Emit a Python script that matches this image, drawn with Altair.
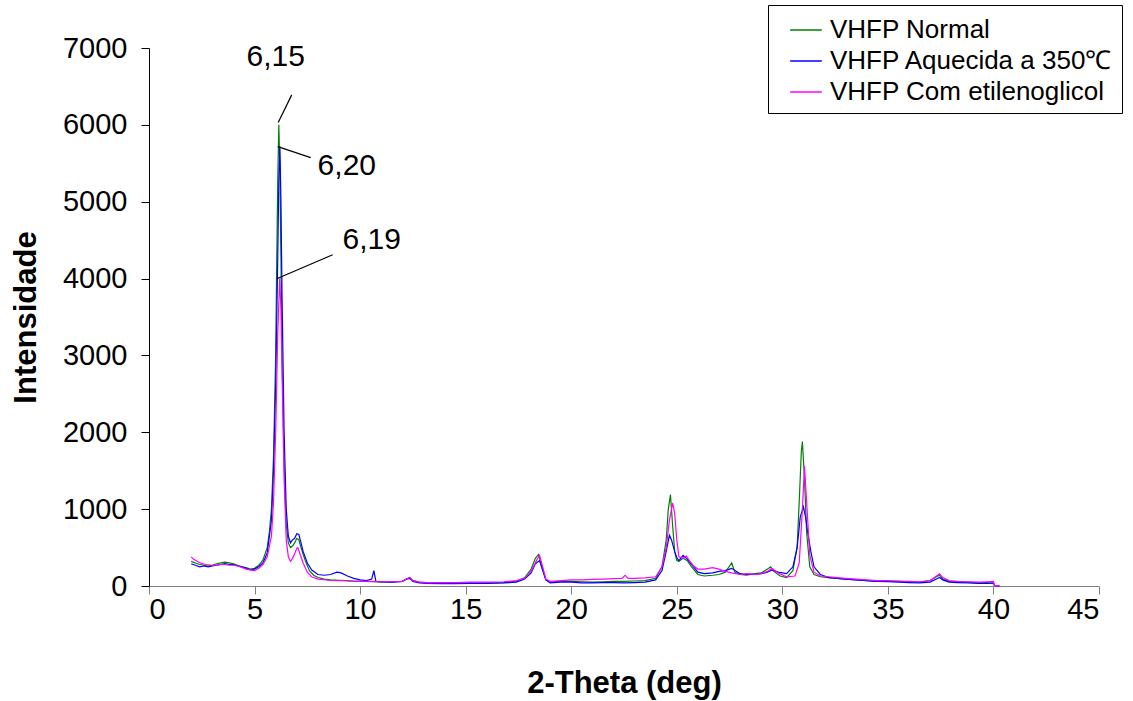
import altair as alt
import pandas as pd

series_names = ["VHFP Normal", "VHFP Aquecida a 350℃", "VHFP Com etilenoglicol"]
series_colors = ["#008000", "#0000ff", "#ff00ff"]

green_x = [2.0,2.2,2.4,2.6,2.8,3.0,3.2,3.4,3.6,3.8,4.0,4.2,4.4,4.6,4.8,5.0,5.2,5.4,5.6,5.7,5.8,5.9,6.0,6.05,6.1,6.15,6.2,6.25,6.3,6.4,6.5,6.6,6.7,6.8,6.9,7.0,7.1,7.2,7.4,7.6,7.8,8.0,8.3,8.6,9.0,9.4,9.8,10.2,10.6,11.0,11.5,12.0,12.2,12.35,12.5,12.8,13.2,13.8,14.5,15.2,16.0,16.8,17.4,17.8,18.1,18.3,18.45,18.6,18.8,19.0,19.5,20.0,20.5,21.0,21.5,22.0,22.5,23.0,23.5,24.0,24.3,24.5,24.6,24.7,24.8,24.9,25.0,25.1,25.3,25.5,25.7,26.0,26.3,26.7,27.0,27.3,27.5,27.6,27.75,28.0,28.3,28.7,29.0,29.3,29.45,29.6,29.9,30.2,30.5,30.7,30.8,30.9,30.95,31.05,31.15,31.3,31.5,31.8,32.2,32.6,33.0,33.5,34.0,34.5,35.0,35.5,36.0,36.5,37.0,37.3,37.45,37.6,37.9,38.3,38.8,39.3,39.7,40.0]
green_y = [320,300,280,270,260,270,290,300,310,300,290,270,250,240,220,230,270,340,500,700,1000,1700,3000,4200,5300,6000,5400,4300,3000,1600,800,560,500,520,560,620,600,500,330,200,140,110,90,80,75,70,60,60,55,50,50,60,90,110,70,50,40,40,35,40,40,45,60,110,220,360,410,260,80,50,60,60,55,50,55,60,60,65,70,100,250,600,1000,1190,800,450,330,320,360,330,250,150,130,140,150,180,260,300,180,150,140,160,170,220,250,190,130,110,200,500,1100,1750,1880,1400,700,250,150,120,110,100,90,80,70,60,60,60,55,50,70,120,140,90,60,55,50,40,45,30]

blue_x = [2.0,2.2,2.4,2.6,2.8,3.0,3.2,3.4,3.6,3.8,4.0,4.2,4.4,4.6,4.8,5.0,5.2,5.4,5.6,5.8,5.9,6.0,6.1,6.15,6.2,6.25,6.3,6.4,6.5,6.6,6.7,6.8,6.9,7.0,7.1,7.2,7.3,7.5,7.7,8.0,8.3,8.6,8.9,9.1,9.4,9.7,10.0,10.3,10.55,10.65,10.75,11.0,11.5,12.0,12.2,12.35,12.5,12.8,13.2,13.8,14.5,15.2,16.0,16.8,17.4,17.8,18.1,18.3,18.5,18.65,18.8,19.0,19.5,20.0,20.5,21.0,21.5,22.0,22.5,23.0,23.5,24.0,24.3,24.5,24.65,24.75,24.9,25.0,25.1,25.3,25.5,25.7,26.0,26.3,26.7,27.0,27.3,27.6,28.0,28.3,28.7,29.0,29.3,29.5,29.8,30.2,30.5,30.7,30.85,31.0,31.1,31.2,31.35,31.5,31.8,32.2,32.6,33.0,33.5,34.0,34.5,35.0,35.5,36.0,36.5,37.0,37.3,37.45,37.6,37.9,38.3,38.8,39.3,39.7,40.0,40.05,40.3]
blue_y = [290,270,250,260,250,260,270,280,290,280,280,260,250,230,210,220,250,300,430,850,1500,2600,4300,5300,5720,5000,3800,2000,1000,650,560,600,620,680,670,560,450,300,210,150,140,150,180,170,130,100,80,70,90,200,60,55,50,60,90,100,60,40,35,30,30,35,35,40,50,90,170,290,330,200,80,40,50,50,40,40,45,45,40,45,50,80,200,450,660,600,450,370,330,400,350,280,180,160,170,190,200,230,160,150,150,160,180,210,180,160,250,500,900,1030,900,700,450,250,150,110,100,90,80,70,60,55,50,45,40,50,90,110,80,50,45,40,35,35,40,5,0]

pink_x = [2.0,2.1,2.3,2.5,2.7,3.0,3.2,3.4,3.6,3.8,4.0,4.2,4.4,4.6,4.8,5.0,5.2,5.4,5.6,5.8,5.9,6.0,6.1,6.19,6.25,6.3,6.4,6.5,6.6,6.7,6.8,6.9,7.0,7.05,7.15,7.3,7.5,7.7,8.0,8.5,9.0,9.5,10.0,10.5,11.0,11.5,12.0,12.2,12.35,12.5,12.8,13.2,13.8,14.5,15.2,16.0,16.8,17.4,17.8,18.1,18.35,18.5,18.65,18.8,19.0,19.5,20.0,20.5,21.0,21.5,22.0,22.4,22.55,22.7,23.0,23.5,24.0,24.3,24.5,24.65,24.8,24.9,25.0,25.1,25.3,25.45,25.6,25.8,26.0,26.3,26.7,27.0,27.3,27.6,28.0,28.3,28.7,29.0,29.3,29.5,29.8,30.2,30.6,30.8,30.95,31.05,31.15,31.3,31.5,31.8,32.2,32.6,33.0,33.5,34.0,34.5,35.0,35.5,36.0,36.5,37.0,37.3,37.45,37.6,37.9,38.3,38.8,39.3,39.7,40.0,40.05,40.3]
pink_y = [380,350,320,290,280,270,270,280,280,270,270,260,240,220,210,200,230,280,380,650,1100,2000,3300,4000,3600,2800,1400,600,380,320,360,420,490,500,420,300,180,120,90,75,70,65,60,60,55,55,60,90,110,70,50,45,45,45,50,50,55,70,100,190,330,400,250,90,60,70,80,80,85,90,95,100,140,100,100,105,120,250,500,850,1080,950,600,380,360,390,330,260,220,220,240,220,190,170,150,160,150,160,190,230,170,120,130,300,1000,1560,1100,400,180,130,120,110,100,90,80,70,70,65,60,55,70,130,160,110,70,60,55,50,55,60,5,0]

# annotation leader lines (data units) and labels
ann_x1 = [6.12, 6.10, 6.05]
ann_y1 = [6030, 5716, 3997]
ann_x2 = [6.76, 7.66, 8.70]
ann_y2 = [6390, 5573, 4310]
ann_text = ["6,15", "6,20", "6,19"]
ann_tx = [6.0, 9.37, 10.55]
ann_ty = [6888, 5469, 4505]

rows = []
for name, xs, ys in zip(series_names, [green_x, blue_x, pink_x], [green_y, blue_y, pink_y]):
    assert len(xs) == len(ys), name
    for i, (a, b) in enumerate(zip(xs, ys)):
        rows.append({"serie": name, "theta": a, "intens": b, "ord": i})
df = pd.DataFrame(rows)

ann = pd.DataFrame({"x1": ann_x1, "y1": ann_y1, "x2": ann_x2, "y2": ann_y2,
                    "t": ann_text, "tx": ann_tx, "ty": ann_ty})

FONT = "Liberation Sans"

xscale = alt.Scale(domain=[0, 45], nice=False)
yscale = alt.Scale(domain=[0, 7000], nice=False)

lines = alt.Chart(df).mark_line(strokeWidth=1.2).encode(
    x=alt.X("theta:Q", scale=xscale,
            axis=alt.Axis(values=list(range(0, 46, 5)), title="2-Theta (deg)",
                          domainColor="#808080", tickColor="#808080", tickSize=8,
                          labelPadding=1, titlePadding=44, grid=False,
                          labelFontSize=29, titleFontSize=31, labelFont=FONT,
                          titleFont=FONT, titleFontWeight="bold",
                          labelColor="black", titleColor="black")),
    y=alt.Y("intens:Q", scale=yscale,
            axis=alt.Axis(values=list(range(0, 7001, 1000)), title="Intensidade",
                          format="d",
                          domainColor="black", tickColor="black", tickSize=8,
                          labelPadding=14, titlePadding=20, grid=False,
                          labelFontSize=29, titleFontSize=31, labelFont=FONT,
                          titleFont=FONT, titleFontWeight="bold",
                          labelColor="black", titleColor="black")),
    color=alt.Color("serie:N",
                    scale=alt.Scale(domain=series_names, range=series_colors),
                    sort=series_names,
                    legend=alt.Legend(title=None, orient="none", legendX=619, legendY=-43,
                                      strokeColor="black", fillColor="white",
                                      padding=8, symbolOffset=13, labelFontSize=26,
                                      labelFont=FONT, labelColor="black",
                                      symbolType="stroke", symbolSize=1000,
                                      symbolStrokeWidth=1.5, rowPadding=1,
                                      labelOffset=7, labelLimit=500)),
    order=alt.Order("ord:Q"),
)

rules = alt.Chart(ann).mark_rule(color="black", strokeWidth=1.2).encode(
    x=alt.X("x1:Q", scale=xscale), y=alt.Y("y1:Q", scale=yscale),
    x2="x2:Q", y2="y2:Q",
)

texts = alt.Chart(ann).mark_text(fontSize=30, font=FONT, color="black").encode(
    x=alt.X("tx:Q", scale=xscale), y=alt.Y("ty:Q", scale=yscale), text="t:N",
)

chart = alt.layer(lines, rules, texts).properties(
    width=950, height=538,
    autosize=alt.AutoSizeParams(type="none"),
    padding={"left": 149, "top": 48, "right": 34, "bottom": 115},
    background="white",
).configure_view(stroke=None)

chart.save("out.html", embed_options={"renderer": "svg", "actions": False})
